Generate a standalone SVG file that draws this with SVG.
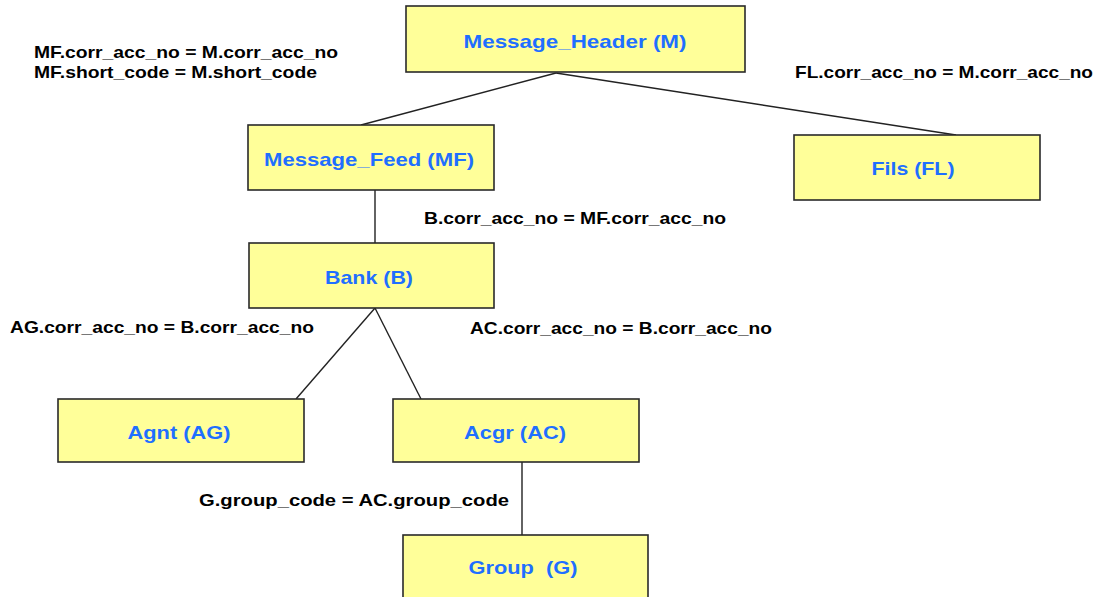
<svg xmlns="http://www.w3.org/2000/svg" width="1102" height="597" viewBox="0 0 1102 597">
<style>
.box{fill:#ffff99;stroke:#2a2a2a;stroke-width:1.6}
.nt{font-family:"Liberation Sans",Arial,sans-serif;font-weight:bold;font-size:19px;fill:#1f6fff;text-anchor:middle}
.lb{font-family:"Liberation Sans",Arial,sans-serif;font-weight:bold;font-size:17px;fill:#000}
.ln{stroke:#222;stroke-width:1.4;fill:none}
</style>
<rect width="1102" height="597" fill="#fff"/>
<g id="connectors">
<line class="ln" x1="556" y1="73" x2="361" y2="125"/>
<line class="ln" x1="556" y1="73" x2="956" y2="135"/>
<line class="ln" x1="375" y1="190" x2="375" y2="243"/>
<line class="ln" x1="375" y1="308" x2="296" y2="399"/>
<line class="ln" x1="375" y1="308" x2="421" y2="399"/>
<line class="ln" x1="522" y1="462" x2="522" y2="535"/>
</g>
<g id="labels">
<text class="lb" x="34" y="58" textLength="304" lengthAdjust="spacingAndGlyphs">MF.corr_acc_no = M.corr_acc_no</text>
<text class="lb" x="34" y="78" textLength="283" lengthAdjust="spacingAndGlyphs">MF.short_code = M.short_code</text>
<text class="lb" x="795" y="78" textLength="298" lengthAdjust="spacingAndGlyphs">FL.corr_acc_no = M.corr_acc_no</text>
<text class="lb" x="424" y="224" textLength="302" lengthAdjust="spacingAndGlyphs">B.corr_acc_no = MF.corr_acc_no</text>
<text class="lb" x="10" y="333" textLength="304" lengthAdjust="spacingAndGlyphs">AG.corr_acc_no = B.corr_acc_no</text>
<text class="lb" x="470" y="334" textLength="302" lengthAdjust="spacingAndGlyphs">AC.corr_acc_no = B.corr_acc_no</text>
<text class="lb" x="199" y="506" textLength="310" lengthAdjust="spacingAndGlyphs">G.group_code = AC.group_code</text>
</g>
<g id="node-M"><rect class="box" x="406" y="6" width="339" height="66"/><text class="nt" x="575" y="48" textLength="223" lengthAdjust="spacingAndGlyphs">Message_Header (M)</text></g>
<g id="node-MF"><rect class="box" x="248" y="125" width="246" height="65"/><text class="nt" x="369" y="166" textLength="210" lengthAdjust="spacingAndGlyphs">Message_Feed (MF)</text></g>
<g id="node-FL"><rect class="box" x="794" y="135" width="246" height="65"/><text class="nt" x="913" y="175" textLength="83" lengthAdjust="spacingAndGlyphs">Fils (FL)</text></g>
<g id="node-B"><rect class="box" x="249" y="243" width="245" height="65"/><text class="nt" x="369" y="284" textLength="88" lengthAdjust="spacingAndGlyphs">Bank (B)</text></g>
<g id="node-AG"><rect class="box" x="58" y="399" width="246" height="63"/><text class="nt" x="179" y="439" textLength="103" lengthAdjust="spacingAndGlyphs">Agnt (AG)</text></g>
<g id="node-AC"><rect class="box" x="393" y="399" width="246" height="63"/><text class="nt" x="515" y="439" textLength="102" lengthAdjust="spacingAndGlyphs">Acgr (AC)</text></g>
<g id="node-G"><rect class="box" x="403" y="535" width="245" height="70"/><text class="nt" x="523" y="574" textLength="109" lengthAdjust="spacingAndGlyphs" xml:space="preserve">Group  (G)</text></g>
</svg>
